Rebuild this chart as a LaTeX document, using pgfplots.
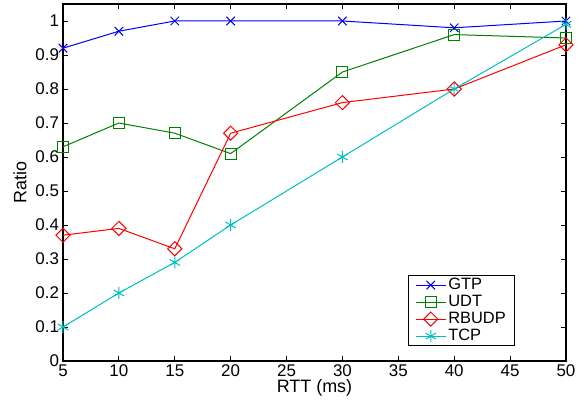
\documentclass[border=0pt]{standalone}
\usepackage{fontspec}
\setmainfont{Liberation Sans}
\usepackage{pgfplots}
\pgfplotsset{compat=1.18}
\definecolor{mgreen}{rgb}{0,0.5,0}
\definecolor{mcyan}{rgb}{0,0.75,0.75}
\begin{document}
\begin{tikzpicture}
\begin{axis}[
  name=ax,
  scale only axis,
  width=503bp, height=357bp,
  xmin=5, xmax=50, ymin=0, ymax=1.05,
  xtick={5,10,...,50},
  ytick={0,0.1,...,1.0},
  yticklabels={0,0.1,0.2,0.3,0.4,0.5,0.6,0.7,0.8,0.9,1},
  tick align=inside,
  major tick length=5bp,
  axis line style={line width=1.2bp},
  every tick/.style={black, line width=0.8bp},
  tick label style={font=\fontsize{17}{19}\selectfont},
  yticklabel style={xshift=-0.5bp},
  xticklabel style={yshift=0bp},
  /pgf/number format/assume math mode=true,
  xlabel={RTT (ms)},
  ylabel={Ratio},
  label style={font=\fontsize{18}{20}\selectfont},
  xlabel style={at={(rel axis cs:0.5,0)}, anchor=center, yshift=-27bp},
  ylabel style={at={(rel axis cs:0,0.5)}, anchor=center, yshift=43bp},
  legend cell align=left,
  legend style={at={(rel axis cs:0.899,0.042)}, anchor=south east,
    draw=black, line width=0.8bp, font=\fontsize{16.5}{17}\selectfont,
    inner xsep=7bp, inner ysep=1bp, row sep=0bp,
    nodes={text height=11bp, text depth=3bp, inner ysep=1.5bp}},
  legend image code/.code={
    \draw[mark repeat=2, mark phase=2, #1] plot coordinates {(0bp,0bp) (15bp,0bp) (30bp,0bp)};
  },
]
\addplot[blue, line width=1bp, mark=x, mark size=6bp, mark options={line width=1bp}]
  coordinates {(5,0.92)(10,0.97)(15,1.0)(20,1.0)(30,1.0)(40,0.98)(50,1.0)};
\addlegendentry{GTP}
\addplot[mgreen, line width=1bp, mark=square, mark size=5.5bp, mark options={line width=1bp}]
  coordinates {(5,0.63)(10,0.70)(15,0.67)(20,0.61)(30,0.85)(40,0.96)(50,0.95)};
\addlegendentry{UDT}
\addplot[red, line width=1bp, mark=square, mark size=5bp, mark options={line width=1bp, rotate=45}]
  coordinates {(5,0.37)(10,0.39)(15,0.33)(20,0.67)(30,0.76)(40,0.80)(50,0.93)};
\addlegendentry{RBUDP}
\addplot[mcyan, line width=1bp, mark=asterisk, mark size=6bp, mark options={line width=1bp}]
  coordinates {(5,0.10)(10,0.20)(15,0.29)(20,0.40)(30,0.60)(40,0.80)(50,0.99)};
\addlegendentry{TCP}
\end{axis}
\pgfresetboundingbox
\path ([shift={(-63bp,-43bp)}]ax.south west) rectangle ([shift={(18bp,4bp)}]ax.north east);
\end{tikzpicture}
\end{document}
